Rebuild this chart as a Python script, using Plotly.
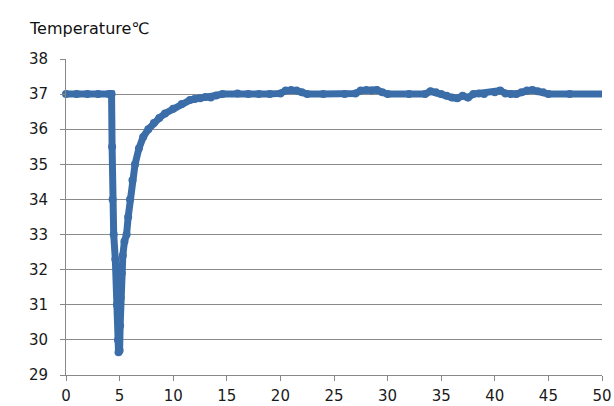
import plotly.graph_objects as go

time_min = [0, 1, 2, 3, 4, 4.25, 4.3, 4.35, 4.45, 4.6, 4.75, 4.85, 4.9, 5.0, 5.05, 5.1,
            5.2, 5.3, 5.45, 5.65, 5.8, 5.97, 6.2, 6.44, 6.8, 7.2, 7.68, 8.2, 8.7, 9.24,
            10, 10.8, 11.57, 12, 12.5, 13, 13.5, 14, 14.6, 16, 17, 18, 19, 20, 20.5, 21,
            21.5, 22, 22.5, 24, 26, 27, 27.5, 28, 28.5, 29, 29.5, 30, 32, 33.5, 34, 34.5,
            35, 35.5, 36, 36.5, 37, 37.5, 38, 38.5, 39, 40, 40.5, 41, 41.5, 42, 42.5, 43,
            43.5, 44, 44.5, 45, 47, 50.3]
temperature = [37.0, 37.0, 37.0, 37.0, 37.0, 37.0, 35.5, 34.0, 33.0, 32.3, 31.0, 30.0, 29.65,
               29.7, 30.4, 31.2, 31.9, 32.4, 32.8, 33.0, 33.5, 34.0, 34.55, 35.0, 35.45,
               35.78, 36.0, 36.18, 36.32, 36.45, 36.58, 36.72, 36.83, 36.86, 36.88, 36.92,
               36.9, 36.96, 37.0, 37.02, 37.0, 37.0, 37.0, 37.02, 37.1, 37.12, 37.1, 37.05,
               37.0, 37.0, 37.0, 37.02, 37.1, 37.12, 37.1, 37.12, 37.05, 37.0, 37.0, 37.0,
               37.08, 37.05, 37.0, 36.95, 36.9, 36.88, 36.95, 36.9, 37.0, 37.02, 37.0, 37.05,
               37.1, 37.02, 37.0, 37.0, 37.05, 37.1, 37.12, 37.08, 37.05, 37.0, 37.0, 37.0]

x_ticks = [0, 5, 10, 15, 20, 25, 30, 35, 40, 45, 50]
y_ticks = [29, 30, 31, 32, 33, 34, 35, 36, 37, 38]
title_text = "Temperature℃"

W, H = 614, 406
ML, MR, MT, MB = 66, 12, 59, 31
PW, PH = W - ML - MR, H - MT - MB

blue = "#3B6EA8"
fig = go.Figure()
fig.add_trace(go.Scatter(
    x=time_min, y=temperature, mode="lines+markers",
    line=dict(color=blue, width=7),
    marker=dict(color=blue, size=8),
    showlegend=False, cliponaxis=False,
))

axis_font = dict(family="DejaVu Sans, Verdana, sans-serif", size=15, color="#1a1a1a")
fig.update_layout(
    width=W, height=H,
    margin=dict(l=ML, r=MR, t=MT, b=MB, autoexpand=False),
    paper_bgcolor="white", plot_bgcolor="white",
    font=axis_font,
    annotations=[dict(text=title_text,
                      x=(27 - ML) / PW, y=1 + (MT - 29) / PH,
                      xref="paper", yref="paper", showarrow=False,
                      font=dict(family="DejaVu Sans, Verdana, sans-serif", size=16, color="#111111"),
                      xanchor="left", yanchor="middle")],
    xaxis=dict(range=[0, 50], tickvals=x_ticks, ticktext=[str(v) for v in x_ticks],
               showgrid=False, zeroline=False, showline=True, linecolor="#888888",
               linewidth=1, ticks="outside", ticklen=5, tickcolor="#888888",
               ticklabelstandoff=2, tickfont=axis_font, automargin=False),
    yaxis=dict(range=[29, 38], tickvals=y_ticks, ticktext=[str(v) for v in y_ticks],
               showgrid=True, gridcolor="#8a8a8a", gridwidth=1, zeroline=False,
               showline=True, linecolor="#888888", linewidth=1, ticks="outside",
               ticklen=5, tickcolor="#888888", ticklabelstandoff=9,
               tickfont=axis_font, automargin=False),
)
fig.write_html("out.html", config={"displayModeBar": False},
               post_script="document.body.style.margin='0';document.body.style.overflow='hidden';")
